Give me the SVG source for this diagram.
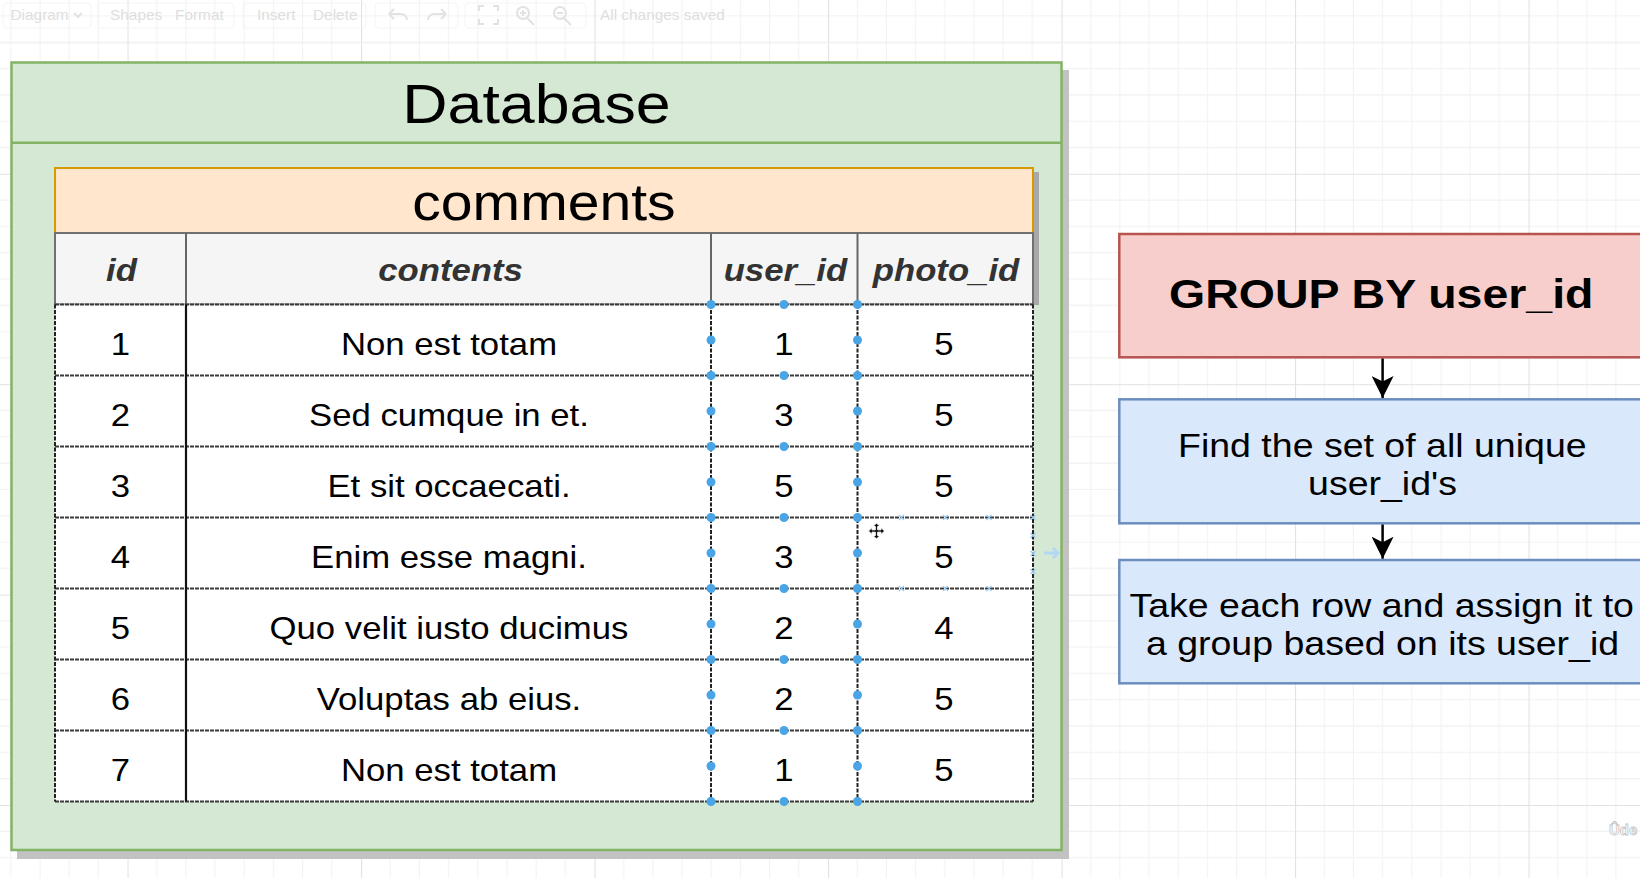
<svg xmlns="http://www.w3.org/2000/svg" width="1640" height="878" viewBox="0 0 1640 878">
<style>
text{font-family:"Liberation Sans",Arial,Helvetica,sans-serif;text-anchor:middle}
.cell{font-size:31px;fill:#000}
.hdr{font-size:31px;font-weight:bold;font-style:italic;fill:#333}
.tb{font-size:14px;fill:#dedede;text-anchor:start}
.tbbtn{fill:none;stroke:#f4f4f4;stroke-width:1}
.ico{fill:none;stroke:#e2e2e2;stroke-width:2}
.dot{fill:#49a5e6}
.hov{stroke:#9ccbef;stroke-width:1.2}
.rowline{stroke:#3a3a3a;stroke-width:2.2;stroke-dasharray:4 1}
.selv{stroke:#222;stroke-width:2;stroke-dasharray:4 1.5}
.flow{stroke:#000;stroke-width:2.5;fill:none}
.red{fill:#f8cecc;stroke:#b85450;stroke-width:2.5}
.blue{fill:#dae8fc;stroke:#6c8ebf;stroke-width:2.5}
.boxtxt{font-size:33.5px;fill:#000}
</style>
<defs>
<pattern id="grid" x="127.5" y="805" width="233.5" height="210.4" patternUnits="userSpaceOnUse">
<g stroke="#f1f1f1" stroke-width="1">
<path d="M29.19 0V210.4M58.38 0V210.4M87.56 0V210.4M116.75 0V210.4M145.94 0V210.4M175.13 0V210.4M204.31 0V210.4"/>
<path d="M0 26.3H233.5M0 52.6H233.5M0 78.9H233.5M0 105.2H233.5M0 131.5H233.5M0 157.8H233.5M0 184.1H233.5"/>
</g>
<path d="M0.5 0V210.4M0 0.5H233.5" stroke="#e2e2e2" stroke-width="1.2"/>
</pattern>
<marker id="arrow" markerUnits="userSpaceOnUse" markerWidth="22" markerHeight="22" refX="20" refY="10" orient="auto" viewBox="0 0 20 20">
<path d="M0 0L20 10L0 20L5 10Z" fill="#000"/>
</marker>
</defs>

<rect width="1640" height="878" fill="#ffffff"/>
<rect width="1640" height="878" fill="url(#grid)"/>

<g id="toolbar">
<line x1="0" y1="43" x2="1640" y2="43" stroke="#f2f2f2"/>
<rect class="tbbtn" x="3" y="3" width="88" height="25" rx="4"/>
<rect class="tbbtn" x="98" y="3" width="136" height="25" rx="4"/>
<rect class="tbbtn" x="243" y="3" width="123" height="25" rx="4"/>
<rect class="tbbtn" x="375" y="3" width="83" height="25" rx="4"/>
<rect class="tbbtn" x="465" y="3" width="121" height="25" rx="4"/>
<text class="tb" transform="translate(10.5 19.5) scale(1.1 1)">Diagram</text>
<path class="ico" d="M74 13l4 4l4-4" stroke-width="1.2"/>
<text class="tb" transform="translate(110 19.5) scale(1.1 1)">Shapes</text>
<text class="tb" transform="translate(175 19.5) scale(1.1 1)">Format</text>
<text class="tb" transform="translate(257 19.5) scale(1.1 1)">Insert</text>
<text class="tb" transform="translate(313 19.5) scale(1.1 1)">Delete</text>
<path class="ico" d="M389 14h12a6 6 0 0 1 6 6M389 14l5-5M389 14l5 5"/>
<path class="ico" d="M446 14h-12a6 6 0 0 0-6 6M446 14l-5-5M446 14l-5 5" stroke="#f0f0f0"/>
<path class="ico" d="M479 11v-5h5M493 6h5v5M498 19v5h-5M484 24h-5v-5"/>
<circle class="ico" cx="523" cy="13" r="6"/><path class="ico" d="M527 18l7 7M520 13h6M523 10v6"/>
<circle class="ico" cx="560" cy="13" r="6"/><path class="ico" d="M564 18l7 7M557 13h6"/>
<text class="tb" transform="translate(600 19.5) scale(1.1 1)">All changes saved</text>
</g>

<g id="database">
<rect x="17" y="70" width="1052" height="789" fill="#c2c2c2"/>
<rect x="11.5" y="62.5" width="1050" height="787.5" fill="#d5e8d4" stroke="#82b366" stroke-width="2.5"/>
<line x1="11.5" y1="142.7" x2="1061.5" y2="142.7" stroke="#82b366" stroke-width="2.5"/>
<text transform="translate(536.5 123.3) scale(1.12 1)" style="font-size:56px">Database</text>
</g>

<g id="comments">
<rect x="1034" y="172" width="5" height="133" fill="#a8a8a8"/>
<rect x="55" y="168" width="978" height="65" fill="#ffe6cc" stroke="#d79b00" stroke-width="2"/>
<text transform="translate(544 220) scale(1.12 1)" style="font-size:51px">comments</text>
<rect x="55" y="233" width="978" height="71.5" fill="#f5f5f5" stroke="#707070" stroke-width="2"/>
<line x1="186" y1="233" x2="186" y2="304.5" stroke="#666" stroke-width="2"/>
<line x1="711" y1="233" x2="711" y2="304.5" stroke="#666" stroke-width="2"/>
<line x1="857.5" y1="233" x2="857.5" y2="304.5" stroke="#666" stroke-width="2"/>
<text class="hdr" transform="translate(121.5 281) scale(1.12 1)">id</text>
<text class="hdr" transform="translate(450.5 281) scale(1.12 1)">contents</text>
<text class="hdr" transform="translate(785.4 281) scale(1.12 1)">user_id</text>
<text class="hdr" transform="translate(946 281) scale(1.12 1)">photo_id</text>
<rect x="55" y="304.5" width="978" height="497" fill="#ffffff"/>
<g id="rowlines">
<line class="rowline" x1="55" y1="304.5" x2="1033" y2="304.5"/>
<line class="rowline" x1="55" y1="375.5" x2="1033" y2="375.5"/>
<line class="rowline" x1="55" y1="446.5" x2="1033" y2="446.5"/>
<line class="rowline" x1="55" y1="517.5" x2="1033" y2="517.5"/>
<line class="rowline" x1="55" y1="588.5" x2="1033" y2="588.5"/>
<line class="rowline" x1="55" y1="659.5" x2="1033" y2="659.5"/>
<line class="rowline" x1="55" y1="730.5" x2="1033" y2="730.5"/>
<line class="rowline" x1="55" y1="801.5" x2="1033" y2="801.5"/>
<line class="selv" x1="55" y1="304.5" x2="55" y2="801.5"/>
<line class="selv" x1="1033" y1="304.5" x2="1033" y2="801.5"/>
<line x1="186" y1="304.5" x2="186" y2="801.5" stroke="#111" stroke-width="2.2"/>
<line class="selv" x1="711" y1="304.5" x2="711" y2="801.5"/>
<line class="selv" x1="857.5" y1="304.5" x2="857.5" y2="801.5"/>
</g>
<g id="row1">
<text class="cell" transform="translate(120.5 355) scale(1.12 1)">1</text>
<text class="cell" transform="translate(449 355) scale(1.12 1)">Non est totam</text>
<text class="cell" transform="translate(784 355) scale(1.12 1)">1</text>
<text class="cell" transform="translate(944 355) scale(1.12 1)">5</text>
</g>
<g id="row2">
<text class="cell" transform="translate(120.5 426) scale(1.12 1)">2</text>
<text class="cell" transform="translate(449 426) scale(1.12 1)">Sed cumque in et.</text>
<text class="cell" transform="translate(784 426) scale(1.12 1)">3</text>
<text class="cell" transform="translate(944 426) scale(1.12 1)">5</text>
</g>
<g id="row3">
<text class="cell" transform="translate(120.5 497) scale(1.12 1)">3</text>
<text class="cell" transform="translate(449 497) scale(1.12 1)">Et sit occaecati.</text>
<text class="cell" transform="translate(784 497) scale(1.12 1)">5</text>
<text class="cell" transform="translate(944 497) scale(1.12 1)">5</text>
</g>
<g id="row4">
<text class="cell" transform="translate(120.5 568) scale(1.12 1)">4</text>
<text class="cell" transform="translate(449 568) scale(1.12 1)">Enim esse magni.</text>
<text class="cell" transform="translate(784 568) scale(1.12 1)">3</text>
<text class="cell" transform="translate(944 568) scale(1.12 1)">5</text>
</g>
<g id="row5">
<text class="cell" transform="translate(120.5 639) scale(1.12 1)">5</text>
<text class="cell" transform="translate(449 639) scale(1.12 1)">Quo velit iusto ducimus</text>
<text class="cell" transform="translate(784 639) scale(1.12 1)">2</text>
<text class="cell" transform="translate(944 639) scale(1.12 1)">4</text>
</g>
<g id="row6">
<text class="cell" transform="translate(120.5 710) scale(1.12 1)">6</text>
<text class="cell" transform="translate(449 710) scale(1.12 1)">Voluptas ab eius.</text>
<text class="cell" transform="translate(784 710) scale(1.12 1)">2</text>
<text class="cell" transform="translate(944 710) scale(1.12 1)">5</text>
</g>
<g id="row7">
<text class="cell" transform="translate(120.5 781) scale(1.12 1)">7</text>
<text class="cell" transform="translate(449 781) scale(1.12 1)">Non est totam</text>
<text class="cell" transform="translate(784 781) scale(1.12 1)">1</text>
<text class="cell" transform="translate(944 781) scale(1.12 1)">5</text>
</g>
</g>

<g id="selection-handles">
<g class="dot">
<circle cx="711" cy="304.5" r="4.5"/><circle cx="784" cy="304.5" r="4.5"/><circle cx="857.5" cy="304.5" r="4.5"/>
<circle cx="711" cy="375.5" r="4.5"/><circle cx="784" cy="375.5" r="4.5"/><circle cx="857.5" cy="375.5" r="4.5"/>
<circle cx="711" cy="446.5" r="4.5"/><circle cx="784" cy="446.5" r="4.5"/><circle cx="857.5" cy="446.5" r="4.5"/>
<circle cx="711" cy="517.5" r="4.5"/><circle cx="784" cy="517.5" r="4.5"/><circle cx="857.5" cy="517.5" r="4.5"/>
<circle cx="711" cy="588.5" r="4.5"/><circle cx="784" cy="588.5" r="4.5"/><circle cx="857.5" cy="588.5" r="4.5"/>
<circle cx="711" cy="659.5" r="4.5"/><circle cx="784" cy="659.5" r="4.5"/><circle cx="857.5" cy="659.5" r="4.5"/>
<circle cx="711" cy="730.5" r="4.5"/><circle cx="784" cy="730.5" r="4.5"/><circle cx="857.5" cy="730.5" r="4.5"/>
<circle cx="711" cy="801.5" r="4.5"/><circle cx="784" cy="801.5" r="4.5"/><circle cx="857.5" cy="801.5" r="4.5"/>
<circle cx="711" cy="340" r="4.5"/><circle cx="857.5" cy="340" r="4.5"/>
<circle cx="711" cy="411" r="4.5"/><circle cx="857.5" cy="411" r="4.5"/>
<circle cx="711" cy="482" r="4.5"/><circle cx="857.5" cy="482" r="4.5"/>
<circle cx="711" cy="553" r="4.5"/><circle cx="857.5" cy="553" r="4.5"/>
<circle cx="711" cy="624" r="4.5"/><circle cx="857.5" cy="624" r="4.5"/>
<circle cx="711" cy="695" r="4.5"/><circle cx="857.5" cy="695" r="4.5"/>
<circle cx="711" cy="766" r="4.5"/><circle cx="857.5" cy="766" r="4.5"/>
</g>
<g class="hov">
<path d="M899 515l5 5M904 515l-5 5M943 515l5 5M948 515l-5 5M986.5 515l5 5M991.5 515l-5 5M1030.5 515l5 5M1035.5 515l-5 5"/>
<path d="M899 586l5 5M904 586l-5 5M943 586l5 5M948 586l-5 5M986.5 586l5 5M991.5 586l-5 5"/>
<path d="M1030.5 533l5 5M1035.5 533l-5 5M1030.5 551l5 5M1035.5 551l-5 5M1030.5 569l5 5M1035.5 569l-5 5"/>
</g>
<path d="M1044 553h12M1053 548l5 5l-5 5" stroke="#b3d9f2" stroke-width="3" fill="none"/>
<g transform="translate(876.5 531)">
<path d="M0 -8L-3.5 -4.5H-1.2V-1.2H-4.5V-3.5L-8 0L-4.5 3.5V1.2H-1.2V4.5H-3.5L0 8L3.5 4.5H1.2V1.2H4.5V3.5L8 0L4.5 -3.5V-1.2H1.2V-4.5H3.5Z" fill="#111" stroke="#fff" stroke-width="1"/>
</g>
</g>

<g id="group-by">
<rect class="red" x="1119.3" y="234" width="526" height="123.3"/>
<text transform="translate(1381.3 308.3) scale(1.12 1)" style="font-size:41.5px;font-weight:bold">GROUP BY user_id</text>
</g>

<g id="find-unique">
<rect class="blue" x="1119.3" y="399.3" width="526" height="124"/>
<text class="boxtxt" transform="translate(1382.3 456.7) scale(1.12 1)">Find the set of all unique</text>
<text class="boxtxt" transform="translate(1382.5 495) scale(1.12 1)">user_id's</text>
</g>

<g id="assign-groups">
<rect class="blue" x="1119.3" y="560" width="526" height="123.3"/>
<text class="boxtxt" transform="translate(1381.7 616.7) scale(1.12 1)">Take each row and assign it to</text>
<text class="boxtxt" transform="translate(1382.5 655) scale(1.12 1)">a group based on its user_id</text>
</g>

<g id="connectors">
<line class="flow" x1="1382.6" y1="358.5" x2="1382.6" y2="398" marker-end="url(#arrow)"/>
<line class="flow" x1="1382.6" y1="524.5" x2="1382.6" y2="558.7" marker-end="url(#arrow)"/>
</g>

<g id="watermark">
<text transform="translate(1609 835)" style="font-size:15px;font-weight:bold;fill:#ffffff;stroke:#c4c4c4;stroke-width:0.8;text-anchor:start">Ûde</text>
</g>
</svg>
